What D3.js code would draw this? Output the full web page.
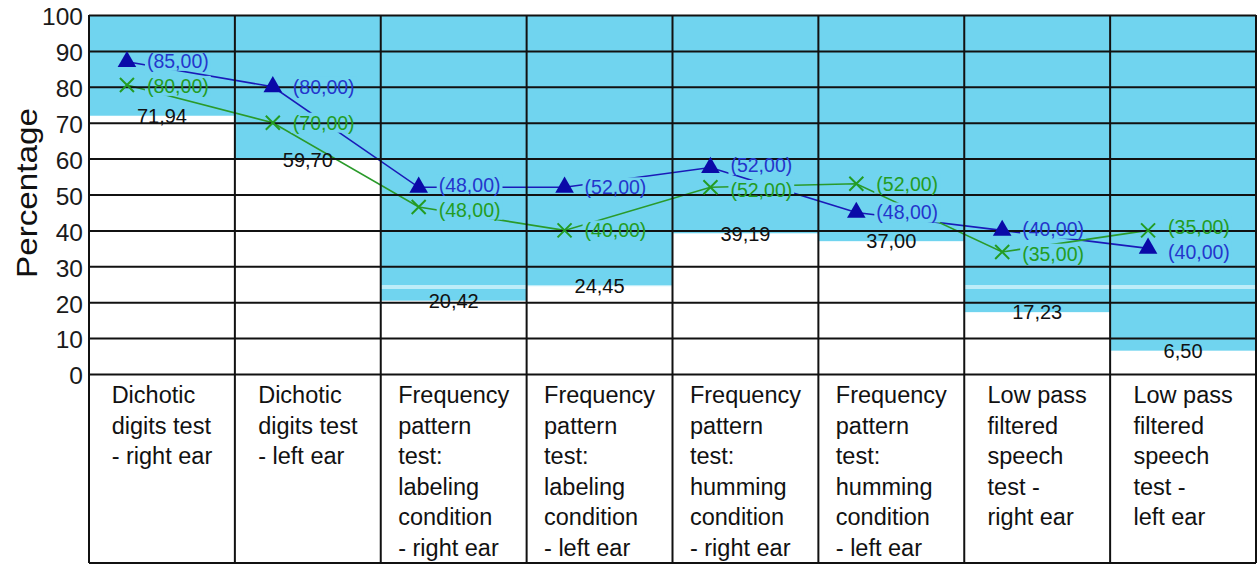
<!DOCTYPE html>
<html lang="en">
<head>
  <meta charset="UTF-8">
  <title>Central auditory tests - percentages</title>
  <script src="https://d3js.org/d3.v7.min.js"></script>
  <style>
    body, html {
      margin: 0;
      background: #fff;
      font-family: 'Liberation Sans', Arial, sans-serif;
    }
  </style>
</head>
<body>
<svg id="chart" width="1258" height="565"></svg>

<script>
  const categoryLines = [
    ["Dichotic", "digits test", "- right ear"],
    ["Dichotic", "digits test", "- left ear"],
    ["Frequency", "pattern", "test:", "labeling", "condition", "- right ear"],
    ["Frequency", "pattern", "test:", "labeling", "condition", "- left ear"],
    ["Frequency", "pattern", "test:", "humming", "condition", "- right ear"],
    ["Frequency", "pattern", "test:", "humming", "condition", "- left ear"],
    ["Low pass", "filtered", "speech", "test -", "right ear"],
    ["Low pass", "filtered", "speech", "test -", "left ear"]
  ];
  const categories = categoryLines.map(l => l.join(" "));

  // cyan columns: top of range down to this value
  const bandValues = [71.94, 59.70, 20.42, 24.45, 39.19, 37.00, 17.23, 6.50];

  // marker positions as drawn, and the labels printed next to them
  const blueValues = [87, 80, 52, 52, 57.5, 45, 40, 35];
  const blueLabels = ["(85,00)", "(80,00)", "(48,00)", "(52,00)", "(52,00)", "(48,00)", "(40,00)", "(40,00)"];
  const greenValues = [80.5, 70, 46.5, 40, 52, 53, 34, 40];
  const greenLabels = ["(80,00)", "(70,00)", "(48,00)", "(40,00)", "(52,00)", "(52,00)", "(35,00)", "(35,00)"];

  const yTicks = [0, 10, 20, 30, 40, 50, 60, 70, 80, 90, 100];

  const svg = d3.select("#chart");
  const plotLeft = 89, plotRight = 1256, plotTop = 15, plotZero = 374, tableBottom = 563;
  const cyan = "#70d4ef";

  const x = d3.scaleBand().domain(categories).range([plotLeft, plotRight]);
  const y = d3.scaleLinear().domain([0, 100]).range([plotZero, plotTop]);
  const fmt = v => d3.format(".2f")(v).replace(".", ",");
  const markerX = i => x(categories[i]) + x.bandwidth() / 2 - 35;

  // layers, bottom to top
  const gBands = svg.append("g");
  const gLines = svg.append("g");
  const gLabelBg = svg.append("g");
  const gGrid = svg.append("g");
  const gText = svg.append("g");
  const gMarks = svg.append("g");

  // cyan bands
  gBands.selectAll("rect")
    .data(bandValues)
    .join("rect")
      .attr("x", (d, i) => x(categories[i]))
      .attr("width", x.bandwidth())
      .attr("y", y(100))
      .attr("height", d => y(d) - y(100))
      .attr("fill", cyan);

  // faint light stripe from the scan
  gBands.append("rect")
    .attr("x", plotLeft).attr("width", plotRight - plotLeft)
    .attr("y", 285).attr("height", 4)
    .attr("fill", "#fff").attr("opacity", 0.55);

  // series lines
  const line = d3.line().x((d, i) => markerX(i)).y(d => y(d));
  gLines.append("path").datum(blueValues)
    .attr("d", line).attr("fill", "none")
    .attr("stroke", "#1a1ab8").attr("stroke-width", 1.6);
  gLines.append("path").datum(greenValues)
    .attr("d", line).attr("fill", "none")
    .attr("stroke", "#2a9a2a").attr("stroke-width", 1.6);

  // grid
  const grid = gGrid.append("g")
    .attr("transform", `translate(${plotLeft},0)`)
    .call(d3.axisLeft(y).tickValues(yTicks).tickSize(-(plotRight - plotLeft)).tickFormat(""));
  grid.select(".domain").remove();
  grid.selectAll("line").attr("stroke", "#111").attr("stroke-width", 2);

  // column lines and table frame
  const bounds = categories.map(c => x(c)).concat([plotRight]);
  gGrid.append("g").selectAll("line")
    .data(bounds)
    .join("line")
      .attr("x1", d => d).attr("x2", d => d)
      .attr("y1", plotTop).attr("y2", tableBottom)
      .attr("stroke", "#111").attr("stroke-width", 2);
  gGrid.append("line")
    .attr("x1", plotLeft).attr("x2", plotRight)
    .attr("y1", tableBottom).attr("y2", tableBottom)
    .attr("stroke", "#111").attr("stroke-width", 2);

  // label y: keep the two labels of a column at least minGap apart
  const minGap = 25;
  function labelY(i, own, other) {
    const a = y(own[i]), b = y(other[i]);
    if (Math.abs(a - b) >= minGap) return a;
    const mid = (a + b) / 2;
    return a <= b ? mid - minGap / 2 : mid + minGap / 2;
  }

  // point labels, with cyan backing that hides the series lines
  function pointLabels(values, others, labels, color) {
    labels.forEach((t, i) => {
      const txt = gText.append("text")
        .attr("x", markerX(i) + 20)
        .attr("y", labelY(i, values, others))
        .attr("dy", "0.36em")
        .attr("font-size", 19.5)
        .attr("fill", color)
        .text(t);
      const b = txt.node().getBBox();
      gLabelBg.append("rect")
        .attr("x", b.x - 2).attr("y", b.y + 1)
        .attr("width", b.width + 4).attr("height", b.height - 2)
        .attr("fill", cyan);
    });
  }
  pointLabels(blueValues, greenValues, blueLabels, "#2436cc");
  pointLabels(greenValues, blueValues, greenLabels, "#239c23");

  // band value labels
  gText.append("g").selectAll("text")
    .data(bandValues)
    .join("text")
      .attr("x", (d, i) => x(categories[i]) + x.bandwidth() / 2)
      .attr("y", d => y(d))
      .attr("dy", "0.36em")
      .attr("text-anchor", "middle")
      .attr("font-size", 20)
      .attr("fill", "#111")
      .text(fmt);

  // markers
  gMarks.append("g").selectAll("path")
    .data(blueValues)
    .join("path")
      .attr("transform", (d, i) => `translate(${markerX(i)},${y(d)})`)
      .attr("d", d3.symbol(d3.symbolTriangle, 150))
      .attr("fill", "#0a0aa8");
  gMarks.append("g").selectAll("path")
    .data(greenValues)
    .join("path")
      .attr("transform", (d, i) => `translate(${markerX(i)},${y(d)})`)
      .attr("d", "M-7,-7L7,7M-7,7L7,-7")
      .attr("fill", "none")
      .attr("stroke", "#239c23").attr("stroke-width", 2);

  // y tick labels
  const yAxis = svg.append("g")
    .attr("transform", `translate(${plotLeft},0)`)
    .call(d3.axisLeft(y).tickValues(yTicks).tickSize(0).tickPadding(6));
  yAxis.select(".domain").remove();
  yAxis.selectAll("text")
    .attr("font-family", "'Liberation Sans', Arial, sans-serif")
    .attr("font-size", 24.5)
    .attr("fill", "#1a1a1a")
    .attr("dy", "0.4em");

  svg.append("text")
    .attr("transform", "translate(37,193) rotate(-90)")
    .attr("text-anchor", "middle")
    .attr("font-size", 29)
    .attr("textLength", 170)
    .attr("lengthAdjust", "spacingAndGlyphs")
    .attr("fill", "#111")
    .text("Percentage");

  // category labels: left-aligned block centred in each column
  categoryLines.forEach((lines, i) => {
    const t = svg.append("text")
      .attr("font-size", 23.5)
      .attr("fill", "#111");
    lines.forEach((s, j) => {
      t.append("tspan").attr("y", 403 + j * 30.6).text(s);
    });
    const w = d3.max(t.selectAll("tspan").nodes(), n => n.getComputedTextLength());
    const x0 = x(categories[i]) + (x.bandwidth() - w) / 2;
    t.selectAll("tspan").attr("x", x0);
  });
</script>
</body>
</html>
